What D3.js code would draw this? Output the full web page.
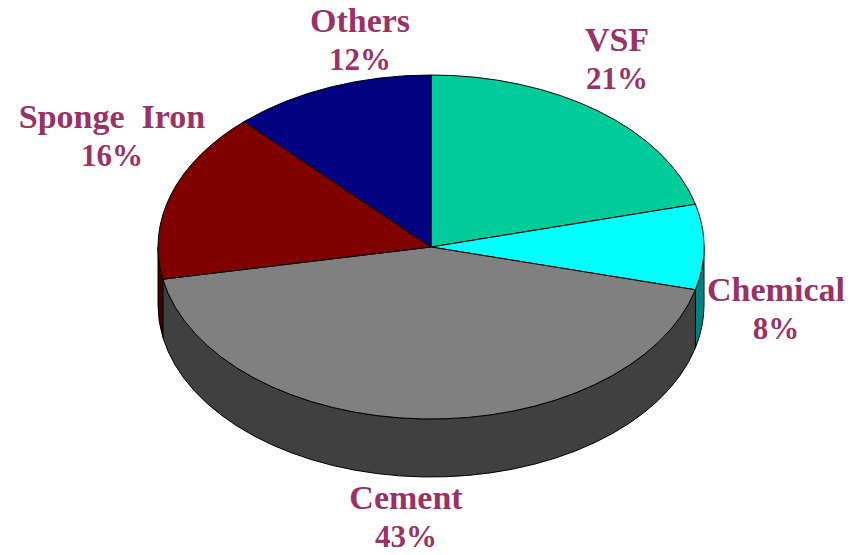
<!DOCTYPE html>
<html><head><meta charset="utf-8">
<script src="https://cdn.jsdelivr.net/npm/d3@7"></script>
<style>html,body{margin:0;padding:0;background:#fff}svg{display:block}</style>
</head><body><svg id="c" width="860" height="555"></svg>
<script>
const categories = ["VSF","Chemical","Cement","Sponge  Iron","Others"];
const values = [21,8,43,16,12];
const topColors = ["#00cc99","#00ffff","#808080","#800000","#000080"];
const sideColors = ["#006650","#008080","#404040","#400000","#000040"];
const labelX = [617,776,406,112,360];
const labelY = [51,301,509,128,32];

const cx=431, cy=247, rx=273, ry=172, depth=58;
const svg=d3.select("#c");
const pie=d3.pie().sort(null).value(d=>d)(values);
const px=d3.scaleLinear().domain([-1,1]).range([cx-rx,cx+rx]);
const py=d3.scaleLinear().domain([-1,1]).range([cy-ry,cy+ry]);
const X=a=>px(Math.sin(a)), Y=a=>py(-Math.cos(a));

const sides=svg.append("g");
pie.forEach((d,i)=>{
  const a0=Math.max(d.startAngle,Math.PI/2), a1=Math.min(d.endAngle,Math.PI*1.5);
  if(a1<=a0) return;
  const p=`M${X(a0)},${Y(a0)}A${rx},${ry} 0 ${a1-a0>Math.PI?1:0} 1 ${X(a1)},${Y(a1)}`+
    `L${X(a1)},${Y(a1)+depth}A${rx},${ry} 0 ${a1-a0>Math.PI?1:0} 0 ${X(a0)},${Y(a0)+depth}Z`;
  sides.append("path").attr("d",p).attr("fill",sideColors[i]).attr("stroke","#000").attr("stroke-width",1);
});
const tops=svg.append("g");
pie.forEach((d,i)=>{
  const p=`M${cx},${cy}L${X(d.startAngle)},${Y(d.startAngle)}A${rx},${ry} 0 ${d.endAngle-d.startAngle>Math.PI?1:0} 1 ${X(d.endAngle)},${Y(d.endAngle)}Z`;
  tops.append("path").attr("d",p).attr("fill",topColors[i]).attr("stroke","#000").attr("stroke-width",1);
});
const lab=svg.append("g").attr("font-family","'Liberation Serif',serif").attr("font-weight","bold").attr("fill","#993366").attr("text-anchor","middle");
categories.forEach((name,i)=>{
  lab.append("text").attr("x",labelX[i]).attr("y",labelY[i]).attr("font-size",34).style("white-space","pre").text(name);
  lab.append("text").attr("x",labelX[i]).attr("y",labelY[i]+38).attr("font-size",31).text(values[i]+"%");
});
</script></body></html>
